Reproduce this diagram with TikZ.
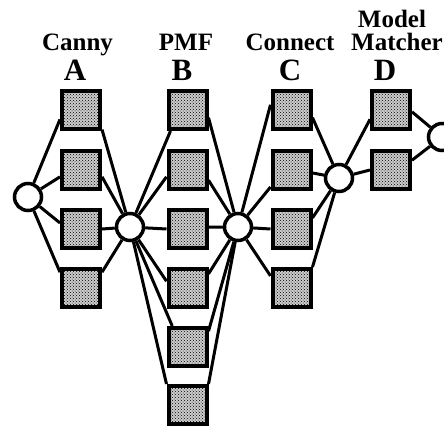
\documentclass[tikz,border=0pt]{standalone}
\usepackage{fontspec}
\setmainfont{Liberation Serif}
\usetikzlibrary{patterns}
\tikzset{
  blk/.style={rectangle,draw=black,line width=4pt,minimum size=38pt,inner sep=0pt,
    preaction={fill=black!20},pattern=crosshatch dots,pattern color=black},
  hub/.style={circle,draw=black,fill=white,line width=3.5pt,minimum size=27pt,inner sep=0pt},
  wire/.style={draw=black,line width=3pt},
  title/.style={font=\fontsize{25}{25}\selectfont\bfseries,anchor=base,inner sep=0pt},
  letter/.style={font=\fontsize{31}{31}\selectfont\bfseries,anchor=base,inner sep=0pt},
}

\begin{document}
\begin{tikzpicture}[x=1pt,y=-1pt]
\useasboundingbox (0,0) rectangle (444,426);
% labels
\node[title] (canny) at (77.5,50) {Canny};
\node[title] (pmf) at (186,50) {PMF};
\node[title] (connect) at (290,50) {Connect};
\node[title] (matcher) at (397,50) {Matcher};
\node[title] (model) at (392,27) {Model};
\node[letter] (la) at (75,80) {A};
\node[letter] (lb) at (182,80) {B};
\node[letter] (lc) at (290,80) {C};
\node[letter] (ld) at (385,80) {D};
% hubs
\node[hub] (n1) at (28,197) {};
\node[hub] (n2) at (130,227) {};
\node[hub] (n3) at (238,227) {};
\node[hub] (n4) at (339,178) {};
\node[hub] (n5) at (442,137) {};
% boxes
\node[blk] (a1) at (81,110) {};
\node[blk] (a2) at (81,170) {};
\node[blk] (a3) at (81,229) {};
\node[blk] (a4) at (81,288) {};
\node[blk] (b1) at (187.5,110) {};
\node[blk] (b2) at (187.5,170) {};
\node[blk] (b3) at (187.5,229) {};
\node[blk] (b4) at (187.5,288) {};
\node[blk] (b5) at (187.5,347) {};
\node[blk] (b6) at (187.5,405) {};
\node[blk] (c1) at (291.5,110) {};
\node[blk] (c2) at (291.5,170) {};
\node[blk] (c3) at (291.5,229) {};
\node[blk] (c4) at (291.5,288) {};
\node[blk] (d1) at (391,110) {};
\node[blk] (d2) at (391,170) {};
% wires
\draw[wire] (n1) -- (a1.204);
\draw[wire] (n1) -- (a2.198);
\draw[wire] (n1) -- (a3.164);
\draw[wire] (n1) -- (a4.143);
\draw[wire] (a1.317) -- (n2);
\draw[wire] (a2.342) -- (n2);
\draw[wire] (a3.east) -- (n2);
\draw[wire] (a4.37) -- (n2);
\draw[wire] (n2) -- (b1.231);
\draw[wire] (n2) -- (b2.198);
\draw[wire] (n2) -- (b3.west);
\draw[wire] (n2) -- (b4.162);
\draw[wire] (n2) -- (b5.126);
\draw[wire] (n2) -- (b6.135);
\draw[wire] (b1.340) -- (n3);
\draw[wire] (b2.334) -- (n3);
\draw[wire] (b3.5) -- (n3);
\draw[wire] (b4.34) -- (n3);
\draw[wire] (b5.37) -- (n3);
\draw[wire] (b6.45) -- (n3);
\draw[wire] (n3) -- (c1.166);
\draw[wire] (n3) -- (c2.219);
\draw[wire] (n3) -- (c3.west);
\draw[wire] (n3) -- (c4.150);
\draw[wire] (c1.340) -- (n4);
\draw[wire] (c2.352) -- (n4);
\draw[wire] (c3.28) -- (n4);
\draw[wire] (c4.45) -- (n4);
\draw[wire] (n4) -- (d1.204);
\draw[wire] (n4) -- (d2.west);
\draw[wire] (d1.355) -- (n5);
\draw[wire] (d2.25) -- (n5);
\end{tikzpicture}
\end{document}
